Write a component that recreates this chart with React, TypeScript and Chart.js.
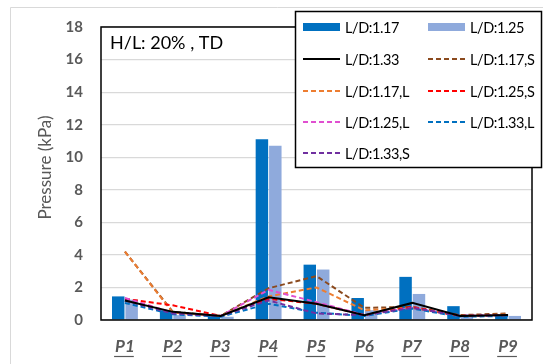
import React, { useEffect, useRef } from "react";
import { Chart, registerables } from "chart.js";

Chart.register(...registerables);

const categories = ["P1", "P2", "P3", "P4", "P5", "P6", "P7", "P8", "P9"];
const yTicks = [0, 2, 4, 6, 8, 10, 12, 14, 16, 18];

const ld117 = [1.45, 0.6, 0.3, 11.1, 3.4, 1.35, 2.65, 0.85, 0.3];
const ld125 = [1.25, 0.3, 0.2, 10.7, 3.1, 0.6, 1.6, 0.35, 0.25];
const ld133 = [1.2, 0.5, 0.25, 1.4, 1.0, 0.3, 1.05, 0.25, 0.3];
const ld117S = [4.2, 0.5, 0.25, 1.95, 2.7, 0.75, 0.8, 0.3, 0.4];
const ld117L = [4.2, 0.45, 0.25, 1.45, 2.0, 0.6, 0.75, 0.25, 0.35];
const ld125S = [1.3, 0.9, 0.25, 1.3, 1.0, 0.3, 0.8, 0.25, 0.3];
const ld125L = [1.35, 0.45, 0.25, 1.85, 1.1, 0.3, 0.75, 0.25, 0.3];
const ld133L = [1.05, 0.35, 0.2, 1.0, 0.45, 0.25, 0.7, 0.2, 0.25];
const ld133S = [1.2, 0.4, 0.25, 1.2, 0.4, 0.3, 0.75, 0.25, 0.3];

const chartTitle = "H/L: 20% , TD";
const yTitle = "Pressure (kPa)";

const FONT = "Lato, 'Noto Sans', sans-serif";

const decorPlugin = {
  id: "decor",
  beforeDraw(chart: any) {
    const ctx = chart.ctx;
    ctx.save();
    ctx.fillStyle = "#ffffff";
    ctx.fillRect(0, 0, chart.width, chart.height);
    ctx.strokeStyle = "#d9d9d9";
    ctx.lineWidth = 1;
    ctx.beginPath();
    ctx.moveTo(10.5, chart.height + 5);
    ctx.lineTo(10.5, 7.5);
    ctx.lineTo(chart.width + 5, 7.5);
    ctx.stroke();
    ctx.restore();
  },
  afterDatasetsDraw(chart: any) {
    const ctx = chart.ctx;
    const a = chart.chartArea;
    ctx.save();
    ctx.strokeStyle = "#000000";
    ctx.lineWidth = 1.5;
    ctx.strokeRect(a.left, a.top, a.right - a.left, a.bottom - a.top);
    ctx.restore();
  },
  afterDraw(chart: any) {
    const ctx = chart.ctx;
    const a = chart.chartArea;
    const xs = chart.scales.x;
    ctx.save();
    // chart title inside plot
    ctx.fillStyle = "#000000";
    ctx.font = `18px ${FONT}`;
    ctx.textAlign = "left";
    ctx.textBaseline = "middle";
    ctx.fillText(chartTitle, a.left + 9, a.top + 16);

    // y axis title
    ctx.save();
    ctx.translate(46, (a.top + a.bottom) / 2 - 6);
    ctx.rotate(-Math.PI / 2);
    ctx.fillStyle = "#595959";
    ctx.font = `17px ${FONT}`;
    ctx.textAlign = "center";
    ctx.textBaseline = "middle";
    ctx.fillText(yTitle, 0, 0);
    ctx.restore();

    // x labels, underlined
    ctx.fillStyle = "#595959";
    ctx.strokeStyle = "#595959";
    ctx.font = `italic bold 17px ${FONT}`;
    ctx.textAlign = "center";
    ctx.textBaseline = "middle";
    categories.forEach((c, i) => {
      const x = xs.getPixelForTick(i);
      const y = 347;
      ctx.fillText(c, x, y);
      const w = ctx.measureText(c).width;
      ctx.lineWidth = 1.2;
      ctx.beginPath();
      ctx.moveTo(x - w / 2 - 1, y + 9.5);
      ctx.lineTo(x + w / 2 - 1, y + 9.5);
      ctx.stroke();
    });

    // legend box
    const bx = 295.5, by = 11.5, bw = 246, bh = 156;
    ctx.fillStyle = "#ffffff";
    ctx.fillRect(bx, by, bw, bh);
    ctx.strokeStyle = "#000000";
    ctx.lineWidth = 1.5;
    ctx.strokeRect(bx, by, bw, bh);
    const colX = [303, 428];
    const rowY = [27, 59, 91, 122, 153];
    ctx.font = `14.5px ${FONT}`;
    try { (ctx as any).letterSpacing = "-0.4px"; } catch (e) {}
    ctx.textAlign = "left";
    ctx.textBaseline = "middle";
    chart.data.datasets.forEach((ds: any, i: number) => {
      const cx = colX[i % 2];
      const cy = rowY[Math.floor(i / 2)];
      if (ds.type === "bar") {
        ctx.fillStyle = ds.backgroundColor;
        ctx.fillRect(cx, cy - 4, 37, 8);
      } else {
        ctx.strokeStyle = ds.borderColor;
        ctx.lineWidth = 2;
        ctx.setLineDash(ds.borderDash || []);
        ctx.beginPath();
        ctx.moveTo(cx, cy);
        ctx.lineTo(cx + 37, cy);
        ctx.stroke();
        ctx.setLineDash([]);
      }
      ctx.fillStyle = "#000000";
      ctx.fillText(ds.label, cx + 42, cy + 1);
    });
    try { (ctx as any).letterSpacing = "0px"; } catch (e) {}
    ctx.restore();
  },
};

function lineDs(label: string, data: number[], color: string, dashed: boolean, order: number) {
  return {
    type: "line" as const,
    label,
    data,
    borderColor: color,
    backgroundColor: color,
    borderWidth: 2,
    borderDash: dashed ? [5, 3] : [],
    pointRadius: 0,
    tension: 0,
    fill: false,
    order,
  };
}

export default function App() {
  const ref = useRef<HTMLCanvasElement>(null);
  useEffect(() => {
    if (!ref.current) return;
    const chart = new Chart(ref.current, {
      type: "bar",
      data: {
        labels: categories,
        datasets: [
          { type: "bar", label: "L/D:1.17", data: ld117, backgroundColor: "#0070C0", barPercentage: 0.93, categoryPercentage: 0.56, order: 19 },
          { type: "bar", label: "L/D:1.25", data: ld125, backgroundColor: "#8FAADC", barPercentage: 0.93, categoryPercentage: 0.56, order: 20 },
          lineDs("L/D:1.33", ld133, "#000000", false, 1),
          lineDs("L/D:1.17,S", ld117S, "#8B4A1E", true, 8),
          lineDs("L/D:1.17,L", ld117L, "#ED7D31", true, 7),
          lineDs("L/D:1.25,S", ld125S, "#FF0000", true, 6),
          lineDs("L/D:1.25,L", ld125L, "#E04FD0", true, 5),
          lineDs("L/D:1.33,L", ld133L, "#0070C0", true, 4),
          lineDs("L/D:1.33,S", ld133S, "#7030A0", true, 3),
        ] as any,
      },
      options: {
        animation: false,
        responsive: false,
        maintainAspectRatio: false,
        devicePixelRatio: 1,
        layout: { padding: { top: 27, right: 11, left: 0, bottom: 0 } },
        plugins: {
          legend: { display: false },
          tooltip: { enabled: false },
        },
        scales: {
          x: {
            offset: true,
            grid: { display: false, drawTicks: false },
            border: { display: false },
            ticks: { display: false },
            afterFit: (s: any) => { s.height = 44; },
          },
          y: {
            min: 0,
            max: 18,
            afterBuildTicks: (s: any) => { s.ticks = yTicks.map((v) => ({ value: v })); },
            grid: { color: "#d9d9d9", lineWidth: 1.2, drawTicks: false },
            border: { display: false },
            ticks: {
              padding: 18,
              color: "#595959",
              font: { family: FONT, size: 15, weight: "bold" },
            },
            afterFit: (s: any) => { s.width = 101; },
          },
        },
      },
      plugins: [decorPlugin],
    });
    return () => chart.destroy();
  }, []);
  return (
    <div style={{ position: "fixed", left: 0, top: 0, width: 543, height: 364 }}>
      <canvas ref={ref} width={543} height={364} style={{ width: 543, height: 364, display: "block" }} />
    </div>
  );
}
